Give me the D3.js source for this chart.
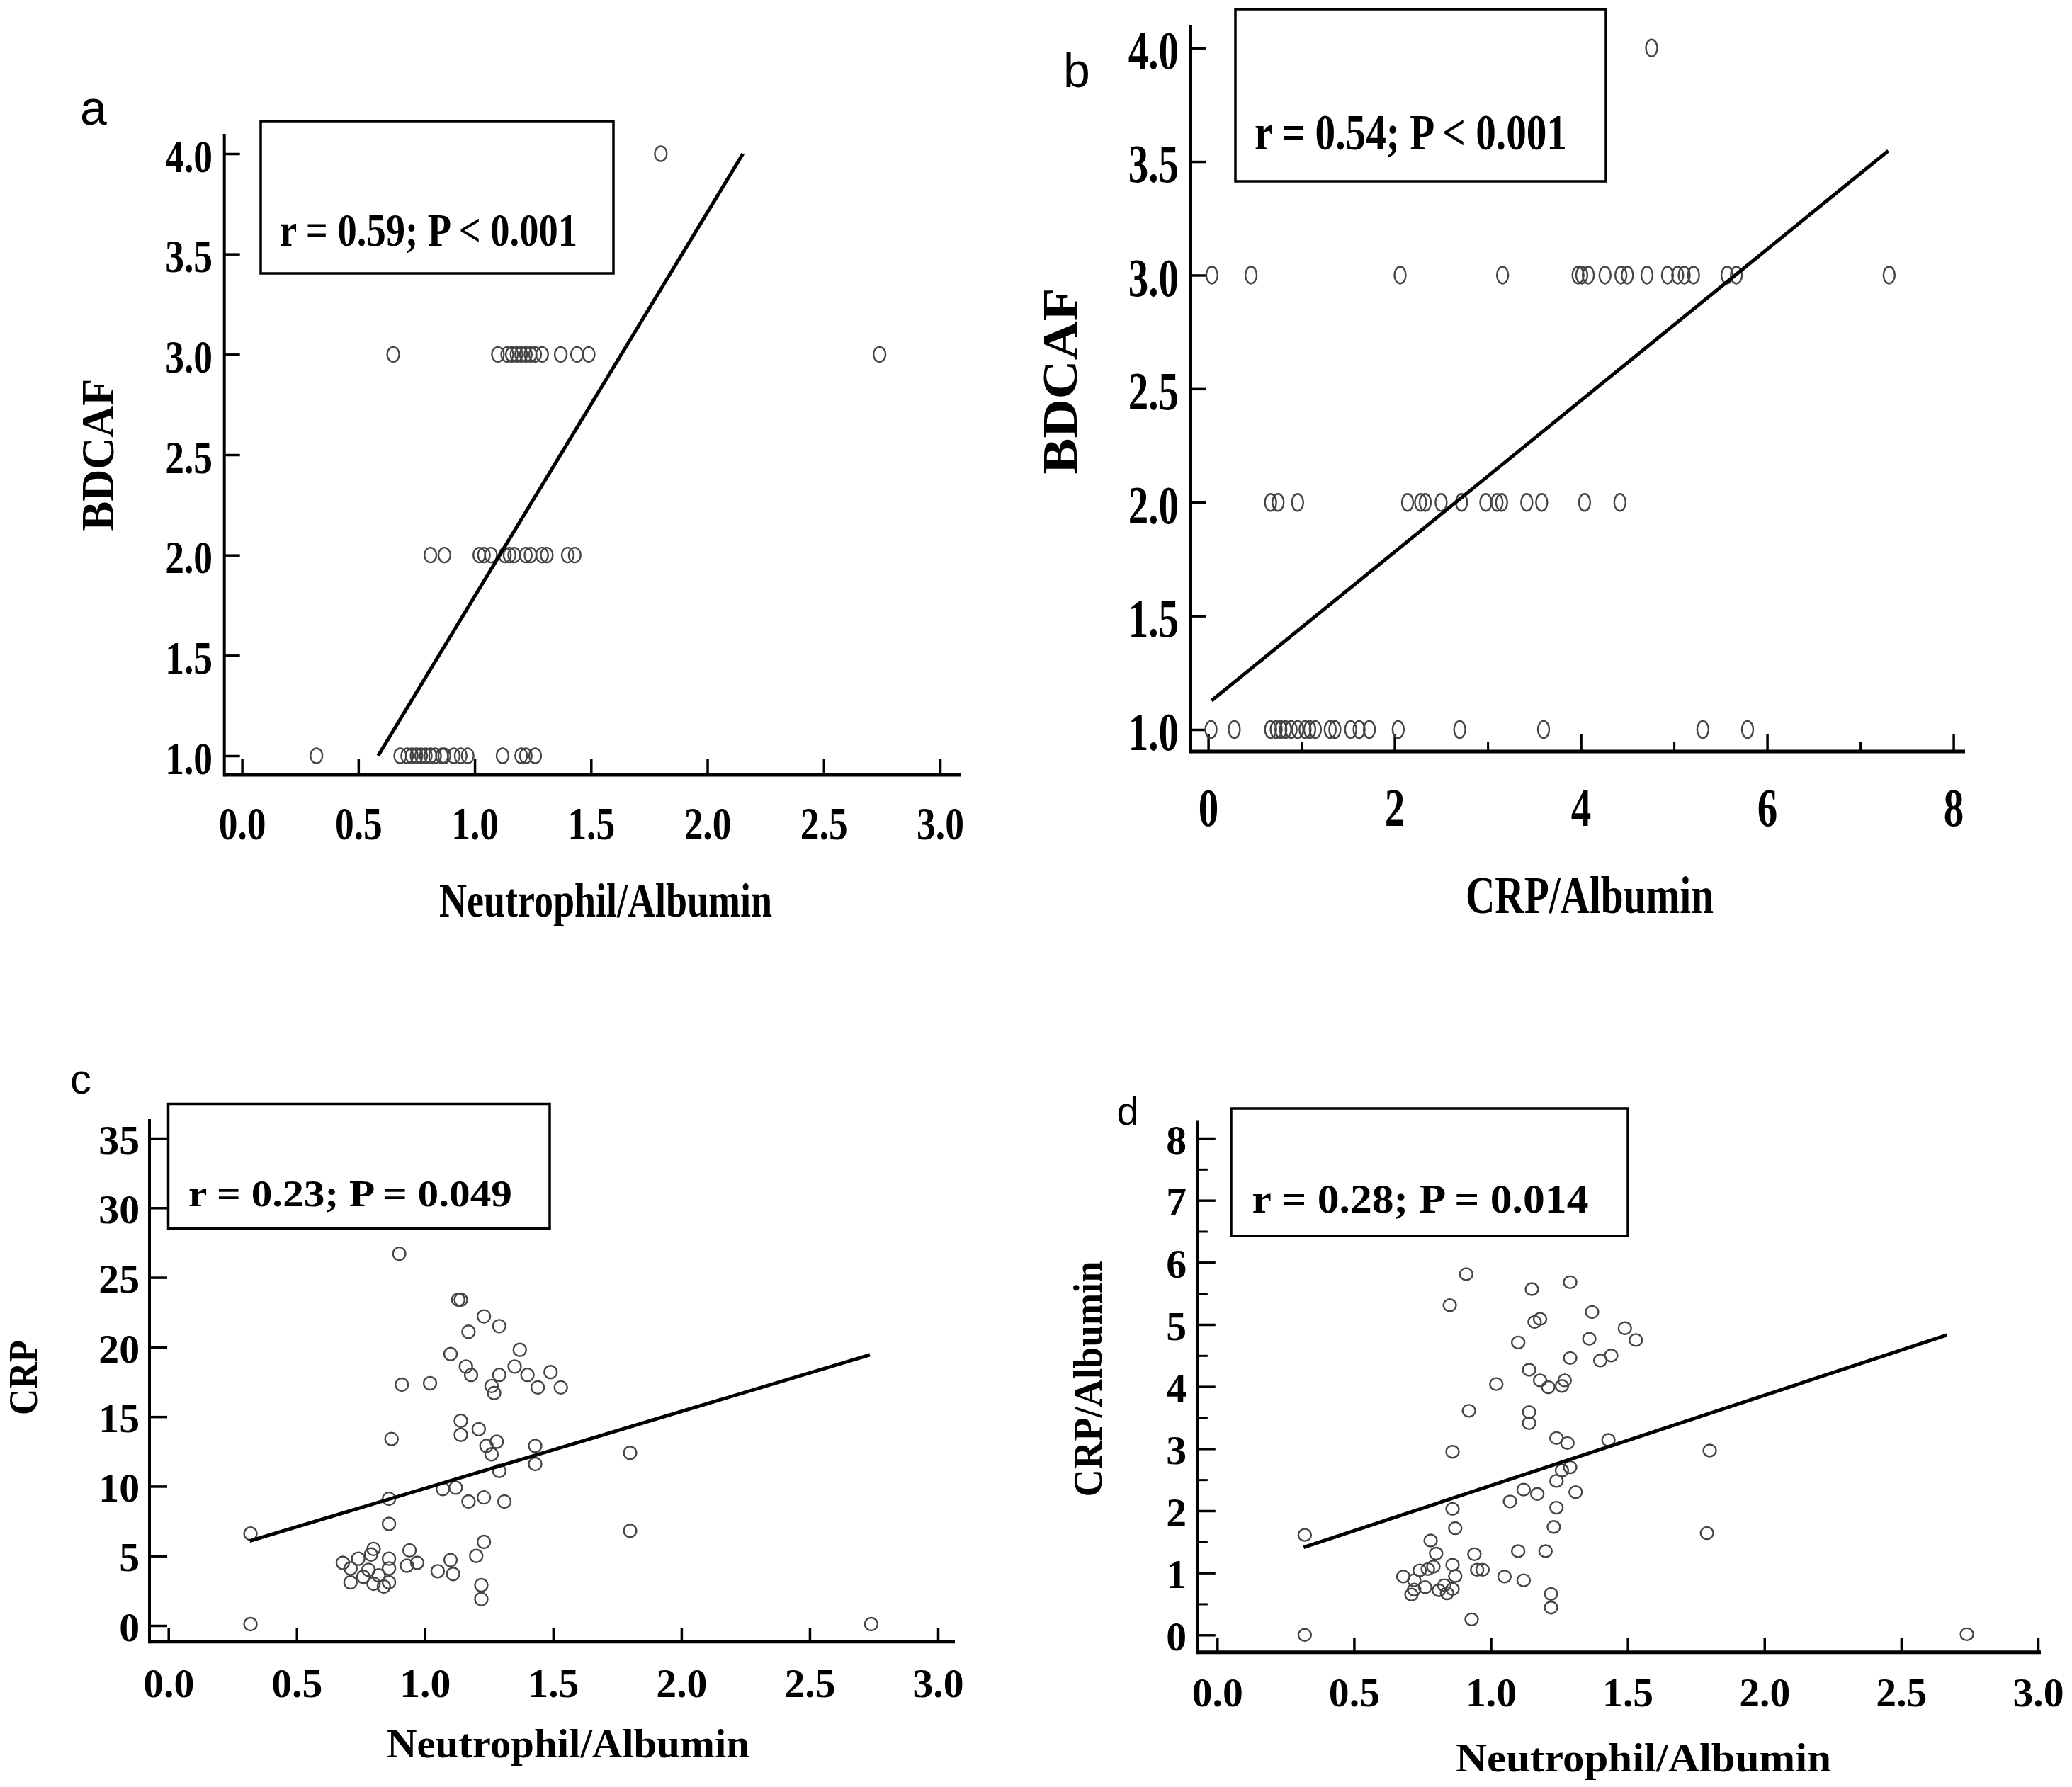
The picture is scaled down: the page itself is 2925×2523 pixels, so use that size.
<!DOCTYPE html>
<html>
<head>
<meta charset="utf-8">
<script src="https://cdn.jsdelivr.net/npm/d3@7"></script>
<style>
  body { margin: 0; background: #fff; }
  svg { display: block; }
</style>
</head>
<body>
<script>
// ---- data ----
// panel a: Neutrophil/Albumin vs BDCAF
var naA = [1.80,
  0.65, 1.10, 1.14, 1.16, 1.18, 1.20, 1.22, 1.24, 1.26, 1.29, 1.37, 1.44, 1.49, 2.74,
  0.81, 0.87, 1.02, 1.04, 1.07, 1.13, 1.15, 1.17, 1.22, 1.24, 1.29, 1.31, 1.40, 1.43,
  0.32, 0.68, 0.71, 0.73, 0.75, 0.77, 0.79, 0.81, 0.83, 0.86, 0.87, 0.91, 0.94, 0.97, 1.12, 1.20, 1.22, 1.26];
var bdcafA = [4,
  3, 3, 3, 3, 3, 3, 3, 3, 3, 3, 3, 3, 3, 3,
  2, 2, 2, 2, 2, 2, 2, 2, 2, 2, 2, 2, 2, 2,
  1, 1, 1, 1, 1, 1, 1, 1, 1, 1, 1, 1, 1, 1, 1, 1, 1, 1];
var fitAx = [0.585, 2.153], fitAy = [1.0, 4.0];

// panel b: CRP/Albumin vs BDCAF
var crpAlbB = [4.76,
  0.04, 0.46, 2.06, 3.16, 3.97, 4.01, 4.08, 4.26, 4.43, 4.50, 4.71, 4.93, 5.04, 5.11, 5.21, 5.57, 5.67, 7.31,
  0.67, 0.75, 0.96, 2.14, 2.28, 2.33, 2.50, 2.72, 2.98, 3.10, 3.15, 3.42, 3.58, 4.04, 4.42,
  0.03, 0.28, 0.67, 0.73, 0.78, 0.83, 0.89, 0.96, 1.04, 1.09, 1.15, 1.31, 1.36, 1.53, 1.62, 1.73, 2.04, 2.70, 3.60, 5.31, 5.79];
var bdcafB = [4,
  3, 3, 3, 3, 3, 3, 3, 3, 3, 3, 3, 3, 3, 3, 3, 3, 3, 3,
  2, 2, 2, 2, 2, 2, 2, 2, 2, 2, 2, 2, 2, 2, 2,
  1, 1, 1, 1, 1, 1, 1, 1, 1, 1, 1, 1, 1, 1, 1, 1, 1, 1, 1, 1, 1];
var fitBx = [0.036, 7.30], fitBy = [1.127, 3.547];

// panel c: Neutrophil/Albumin vs CRP
var naC = [0.32, 0.32, 0.90, 1.13, 1.14, 1.23, 1.29, 1.17, 1.37, 1.10, 1.16, 1.18, 1.29, 1.35, 1.40, 1.49,
  0.91, 1.02, 1.26, 1.27, 1.44, 1.53, 1.14, 1.14, 1.21, 0.87, 1.28, 1.24, 1.26, 1.43, 1.43, 1.29,
  1.80, 1.07, 1.12, 0.86, 1.17, 1.23, 1.31, 0.86, 1.80, 1.23, 0.80, 0.94, 0.68, 0.74, 0.79, 0.71,
  0.78, 0.86, 0.86, 0.93, 0.97, 0.71, 0.76, 0.82, 0.80, 0.84, 0.86, 1.05, 1.10, 1.11, 1.20, 1.22, 1.22, 2.74];
var crpC = [6.6, 0.1, 26.7, 23.4, 23.4, 22.2, 21.5, 21.1, 19.8, 19.5, 18.6, 18.0, 18.0, 18.6, 18.0, 18.2,
  17.3, 17.4, 17.2, 16.7, 17.1, 17.1, 14.7, 13.7, 14.1, 13.4, 13.2, 12.9, 12.3, 12.9, 11.6, 11.1,
  12.4, 9.8, 9.9, 9.1, 8.9, 9.2, 8.9, 7.3, 6.8, 6.0, 5.5, 5.4, 4.5, 4.8, 5.1, 4.1,
  4.0, 4.8, 4.1, 4.3, 4.5, 3.1, 3.5, 3.6, 3.0, 2.8, 3.1, 3.9, 4.7, 3.7, 5.0, 2.9, 1.9, 0.1];
var fitCx = [0.317, 2.735], fitCy = [6.07, 19.44];

// panel d: Neutrophil/Albumin vs CRP/Albumin
var naD = [0.32, 0.32, 0.91, 0.85, 1.15, 1.29, 1.16, 1.18, 1.37, 1.49, 1.53, 1.36, 1.10, 1.29, 1.44, 1.40,
  1.14, 1.02, 1.18, 1.21, 1.27, 1.26, 0.92, 1.14, 1.14, 1.24, 1.28, 1.43, 0.86, 1.80, 1.29, 1.26,
  1.12, 1.17, 1.24, 1.31, 1.07, 0.86, 1.24, 0.87, 1.23, 1.79, 0.78, 0.80, 0.94, 1.10, 1.20, 0.74,
  0.77, 0.79, 0.86, 0.95, 0.97, 0.87, 0.68, 0.72, 1.05, 1.12, 0.71, 0.72, 0.76, 0.81, 0.83, 0.84,
  0.86, 1.22, 1.22, 0.93, 2.74];
var crpAlbD = [1.61, 0.00, 5.81, 5.31, 5.57, 5.68, 5.04, 5.09, 5.20, 4.94, 4.75, 4.77, 4.71, 4.46, 4.50, 4.42,
  4.27, 4.04, 4.10, 3.99, 4.10, 4.01, 3.61, 3.59, 3.41, 3.17, 3.09, 3.14, 2.95, 2.97, 2.70, 2.65,
  2.34, 2.27, 2.48, 2.30, 2.15, 2.03, 2.05, 1.72, 1.74, 1.64, 1.52, 1.31, 1.30, 1.35, 1.35, 1.04,
  1.06, 1.10, 1.13, 1.05, 1.05, 0.95, 0.94, 0.88, 0.94, 0.88, 0.65, 0.73, 0.77, 0.72, 0.80, 0.67,
  0.74, 0.66, 0.44, 0.25, 0.01];
var fitDx = [0.316, 2.667], fitDy = [1.41, 4.83];

// tick values
var naTicks = [0, 0.5, 1.0, 1.5, 2.0, 2.5, 3.0];
var bdcafTicks = [1.0, 1.5, 2.0, 2.5, 3.0, 3.5, 4.0];
var crpAlbMajor = [0, 2, 4, 6, 8];
var crpAlbMinor = [1, 3, 5, 7];
var crpTicks = [0, 5, 10, 15, 20, 25, 30, 35];
var crpAlbYMajor = [0, 1, 2, 3, 4, 5, 6, 7, 8];
var crpAlbYMinor = [0.5, 1.5, 2.5, 3.5, 4.5, 5.5, 6.5, 7.5];

var serif = "'Liberation Serif', 'Times New Roman', serif";
var sans = "'Liberation Sans', Arial, sans-serif";

var svg = d3.select("body").append("svg")
    .attr("width", 2925)
    .attr("height", 2523);

function squeeze(sel, factor) {
    sel.each(function() {
        var len = this.getComputedTextLength();
        d3.select(this).attr("textLength", len * factor).attr("lengthAdjust", "spacingAndGlyphs");
    });
}

function panel(p) {
    var g = svg.append("g");
    var x = d3.scaleLinear().domain(p.xDomain).range(p.xRange);
    var y = d3.scaleLinear().domain(p.yDomain).range(p.yRange);

    // panel letter
    g.append("text")
        .attr("x", p.label[1]).attr("y", p.label[2])
        .attr("text-anchor", "middle")
        .style("font-family", sans).style("font-size", p.label[3] + "px")
        .text(p.label[0]);

    // x axis ticks (inward)
    var xa = g.append("g").attr("transform", "translate(0," + p.axisY + ")")
        .call(d3.axisBottom(x).tickValues(p.xTicks).tickSizeInner(-p.xTickLen).tickSizeOuter(0)
            .tickFormat(p.xFmt));
    xa.select(".domain").remove();
    xa.selectAll("line").attr("stroke", "#000").attr("stroke-width", 3.5);
    xa.selectAll("text")
        .attr("y", p.xLabelY - p.axisY).attr("dy", "0.34em")
        .attr("fill", "#000")
        .style("font-family", serif).style("font-weight", "bold").style("font-size", p.tickSize + "px")
        .call(squeeze, p.tickScale);
    if (p.xMinor) {
        var xm = g.append("g").attr("transform", "translate(0," + p.axisY + ")")
            .call(d3.axisBottom(x).tickValues(p.xMinor).tickSizeInner(-p.minorLen).tickSizeOuter(0).tickFormat(""));
        xm.select(".domain").remove();
        xm.selectAll("line").attr("stroke", "#000").attr("stroke-width", 3);
    }

    // y axis ticks (inward)
    var ya = g.append("g").attr("transform", "translate(" + p.axisX + ",0)")
        .call(d3.axisLeft(y).tickValues(p.yTicks).tickSizeInner(-p.yTickLen).tickSizeOuter(0)
            .tickFormat(p.yFmt));
    ya.select(".domain").remove();
    ya.selectAll("line").attr("stroke", "#000").attr("stroke-width", 3.5);
    ya.selectAll("text")
        .attr("x", p.yLabelRight - p.axisX).attr("dy", "0.38em")
        .attr("fill", "#000")
        .style("font-family", serif).style("font-weight", "bold").style("font-size", p.tickSize + "px")
        .call(squeeze, p.tickScale);
    if (p.yMinor) {
        var ym = g.append("g").attr("transform", "translate(" + p.axisX + ",0)")
            .call(d3.axisLeft(y).tickValues(p.yMinor).tickSizeInner(-p.minorLen).tickSizeOuter(0).tickFormat(""));
        ym.select(".domain").remove();
        ym.selectAll("line").attr("stroke", "#000").attr("stroke-width", 3);
    }

    // axis lines
    g.append("line").attr("x1", p.axisX).attr("x2", p.axisRight)
        .attr("y1", p.axisY).attr("y2", p.axisY)
        .attr("stroke", "#000").attr("stroke-width", 5);
    g.append("line").attr("x1", p.axisX).attr("x2", p.axisX)
        .attr("y1", p.axisTop).attr("y2", p.axisY + 2.5)
        .attr("stroke", "#000").attr("stroke-width", 4);

    // axis titles
    g.append("text")
        .attr("x", p.xTitle[1]).attr("y", p.xTitle[2]).attr("dy", "0.33em")
        .attr("text-anchor", "middle")
        .attr("textLength", p.xTitle[4]).attr("lengthAdjust", "spacingAndGlyphs")
        .style("font-family", serif).style("font-weight", "bold").style("font-size", p.xTitle[3] + "px")
        .text(p.xTitle[0]);
    g.append("text")
        .attr("transform", "translate(" + p.yTitle[1] + "," + p.yTitle[2] + ") rotate(-90)")
        .attr("dy", "0.33em")
        .attr("text-anchor", "middle")
        .attr("textLength", p.yTitle[4]).attr("lengthAdjust", "spacingAndGlyphs")
        .style("font-family", serif).style("font-weight", "bold").style("font-size", p.yTitle[3] + "px")
        .text(p.yTitle[0]);

    // stats box
    g.append("rect")
        .attr("x", p.box[0]).attr("y", p.box[1])
        .attr("width", p.box[2] - p.box[0]).attr("height", p.box[3] - p.box[1])
        .attr("fill", "none").attr("stroke", "#000").attr("stroke-width", 3.5);
    g.append("text")
        .attr("x", p.stat[1]).attr("y", p.stat[2])
        .attr("textLength", p.stat[4]).attr("lengthAdjust", "spacingAndGlyphs")
        .style("font-family", serif).style("font-weight", "bold").style("font-size", p.stat[3] + "px")
        .text(p.stat[0]);

    // points
    var pts = d3.zip(p.xs, p.ys);
    g.append("g").selectAll("ellipse")
        .data(pts)
        .enter()
        .append("ellipse")
        .attr("cx", function(d) { return x(d[0]); })
        .attr("cy", function(d) { return y(d[1]); })
        .attr("rx", p.rx).attr("ry", p.ry)
        .attr("fill", "none")
        .attr("stroke", "#444")
        .attr("stroke-width", 2.4);

    // regression line
    var line = d3.line().x(function(d) { return x(d[0]); }).y(function(d) { return y(d[1]); });
    g.append("path")
        .datum(d3.zip(p.fitX, p.fitY))
        .attr("d", line)
        .attr("fill", "none").attr("stroke", "#000").attr("stroke-width", 5);
}

var f1 = d3.format(".1f"), f0 = d3.format("d");

panel({
    label: ["a", 132, 176, 68],
    xs: naA, ys: bdcafA, fitX: fitAx, fitY: fitAy,
    xDomain: [0, 3], xRange: [341.6, 1327], yDomain: [1, 4], yRange: [1067, 217],
    axisX: 316.7, axisY: 1094, axisTop: 189, axisRight: 1356,
    xTicks: naTicks, xFmt: f1, xTickLen: 23, yTicks: bdcafTicks, yFmt: f1, yTickLen: 22,
    xLabelY: 1163, yLabelRight: 300, tickSize: 66, tickScale: 0.81,
    xTitle: ["Neutrophil/Albumin", 855, 1272, 68, 470],
    yTitle: ["BDCAF", 138, 642, 66, 215],
    box: [368, 171, 866, 386],
    stat: ["r = 0.59; P < 0.001", 395, 347, 66, 420],
    rx: 8.5, ry: 10.5
});

panel({
    label: ["b", 1520, 123, 68],
    xs: crpAlbB, ys: bdcafB, fitX: fitBx, fitY: fitBy,
    xDomain: [0, 8], xRange: [1705.6, 2757.6], yDomain: [1, 4], yRange: [1030, 67.7],
    axisX: 1681, axisY: 1061, axisTop: 35, axisRight: 2774,
    xTicks: crpAlbMajor, xFmt: f0, xTickLen: 24, xMinor: crpAlbMinor, minorLen: 14,
    yTicks: bdcafTicks, yFmt: f1, yTickLen: 22,
    xLabelY: 1140, yLabelRight: 1664, tickSize: 76, tickScale: 0.75,
    xTitle: ["CRP/Albumin", 2244, 1264, 75, 350],
    yTitle: ["BDCAF", 1497, 538, 70, 263],
    box: [1744, 13, 2267, 256],
    stat: ["r = 0.54; P < 0.001", 1771, 211, 72, 441],
    rx: 8, ry: 12
});

panel({
    label: ["c", 114, 1544, 60],
    xs: naC, ys: crpC, fitX: fitCx, fitY: fitCy,
    xDomain: [0, 3], xRange: [237.7, 1324], yDomain: [0, 35], yRange: [2295, 1607],
    axisX: 211, axisY: 2317.7, axisTop: 1580, axisRight: 1348,
    xTicks: naTicks, xFmt: f1, xTickLen: 19, yTicks: crpTicks, yFmt: f0, yTickLen: 25,
    xLabelY: 2377, yLabelRight: 197, tickSize: 56, tickScale: 1.03,
    xTitle: ["Neutrophil/Albumin", 802, 2462, 57, 512],
    yTitle: ["CRP", 34, 1945, 56, 106],
    box: [237.5, 1558.5, 776, 1734.7],
    stat: ["r = 0.23; P = 0.049", 266, 1703, 52, 457],
    rx: 9, ry: 9
});

panel({
    label: ["d", 1592, 1588, 56],
    xs: naD, ys: crpAlbD, fitX: fitDx, fitY: fitDy,
    xDomain: [0, 3], xRange: [1718.3, 2877], yDomain: [0, 8], yRange: [2308.3, 1607],
    axisX: 1690.8, axisY: 2332.7, axisTop: 1581.5, axisRight: 2881,
    xTicks: naTicks, xFmt: f1, xTickLen: 20, yTicks: crpAlbYMajor, yFmt: f0, yTickLen: 25,
    yMinor: crpAlbYMinor, minorLen: 14,
    xLabelY: 2390, yLabelRight: 1675, tickSize: 56, tickScale: 1.03,
    xTitle: ["Neutrophil/Albumin", 2320, 2482, 58, 530],
    yTitle: ["CRP/Albumin", 1537, 1947, 56, 333],
    box: [1738, 1565, 2298, 1745],
    stat: ["r = 0.28; P = 0.014", 1767.5, 1712, 56, 475],
    rx: 9, ry: 8.5
});
</script>
</body>
</html>
